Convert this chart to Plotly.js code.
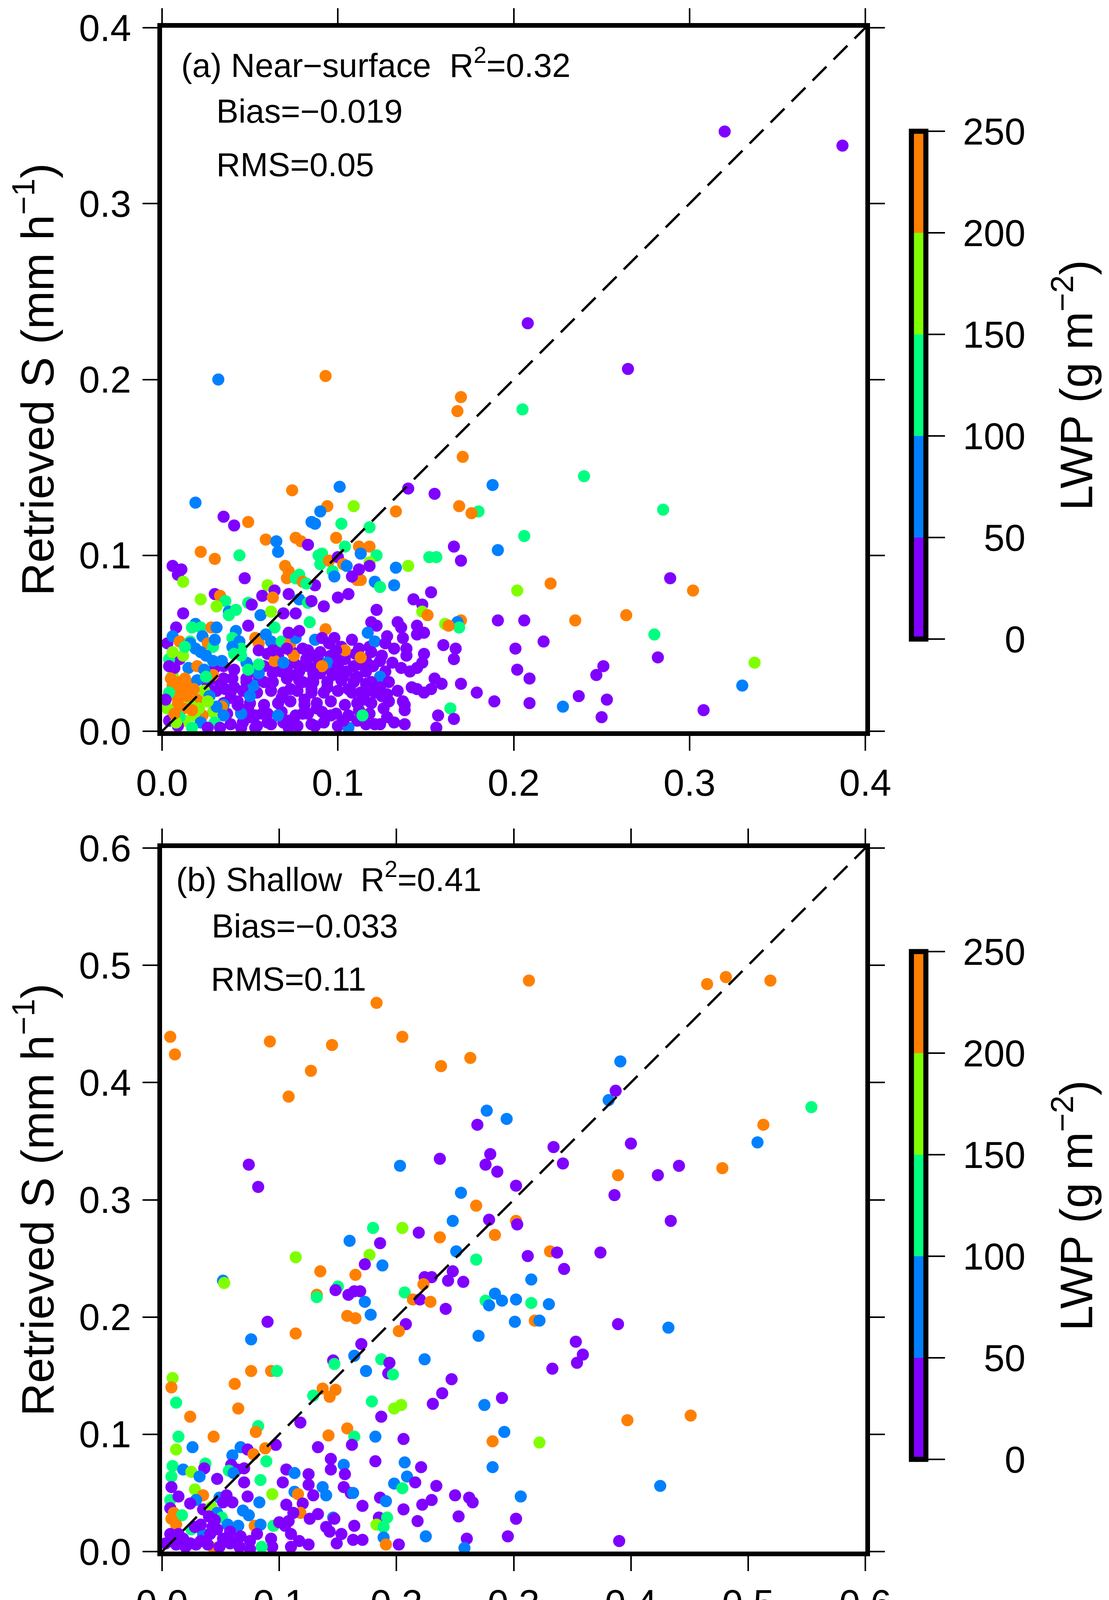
<!DOCTYPE html>
<html>
<head>
<meta charset="utf-8">
<script src="https://cdn.plot.ly/plotly-3.0.1.min.js"></script>
<style>
  html, body { margin: 0; padding: 0; background: #fff; }
  #chart { width: 2840px; height: 6431px; }
</style>
</head>
<body>
<div id="chart"></div>
<script>
/* =========================
   Data
   each point: [measured S, retrieved S, LWP]
   LWP only readable as a colour class -> class midpoint
========================= */
const P = 25, B = 75, G = 125, L = 175, O = 225;

const nearSurface = [
  // dense purple block near the origin
  [0.035,0.037,P],[0.041,0.035,P],[0.050,0.036,P],[0.058,0.037,P],[0.064,0.035,P],[0.071,0.036,P],[0.078,0.037,P],[0.086,0.035,P],[0.094,0.036,P],[0.101,0.035,P],[0.109,0.037,P],
  [0.032,0.029,P],[0.040,0.030,P],[0.048,0.028,P],[0.055,0.029,P],[0.063,0.028,P],[0.071,0.030,P],[0.078,0.029,P],[0.086,0.030,P],[0.094,0.028,P],[0.102,0.029,P],[0.110,0.030,P],
  [0.031,0.023,P],[0.039,0.022,P],[0.046,0.023,P],[0.054,0.022,P],[0.062,0.023,P],[0.069,0.022,P],[0.077,0.023,P],[0.085,0.024,P],[0.092,0.022,P],[0.100,0.023,P],[0.108,0.022,P],[0.117,0.023,P],
  [0.035,0.016,P],[0.043,0.017,P],[0.050,0.016,P],[0.058,0.015,P],[0.066,0.016,P],[0.073,0.017,P],[0.081,0.015,P],[0.088,0.016,P],[0.096,0.017,P],[0.104,0.015,P],[0.111,0.016,P],[0.119,0.016,P],[0.129,0.017,P],
  [0.037,0.010,P],[0.045,0.011,P],[0.053,0.009,P],[0.060,0.010,P],[0.068,0.011,P],[0.076,0.009,P],[0.083,0.010,P],[0.091,0.011,P],[0.099,0.010,P],[0.106,0.009,P],
  [0.039,0.004,P],[0.046,0.005,P],[0.054,0.003,P],[0.062,0.004,P],[0.069,0.005,P],[0.077,0.003,P],[0.085,0.004,P],[0.092,0.005,P],[0.100,0.003,P],[0.124,0.004,P],[0.132,0.005,P],
  [0.066,0.043,P],[0.074,0.045,P],[0.082,0.041,P],[0.089,0.040,P],[0.096,0.043,P],[0.104,0.041,P],[0.110,0.044,P],[0.116,0.040,P],
  [0.095,0.050,P],[0.102,0.048,P],[0.112,0.047,P],[0.118,0.048,P],[0.124,0.040,P],[0.127,0.034,P],[0.116,0.034,P],[0.112,0.038,P],
  [0.099,0.041,P],[0.083,0.046,P],[0.066,0.048,P],[0.060,0.044,P],[0.075,0.039,P],[0.090,0.033,P],[0.097,0.032,P],[0.103,0.031,P],
  [0.116,0.027,P],[0.121,0.022,P],[0.128,0.021,P],[0.118,0.010,P],[0.112,0.012,P],[0.128,0.008,P],[0.111,0.006,P],[0.116,0.004,P],
  [0.137,0.053,P],[0.026,0.026,P],[0.030,0.036,P],[0.003,0.050,P],
  // sparse points
  [0.320,0.341,P],[0.387,0.333,P],[0.208,0.232,P],[0.265,0.206,P],[0.032,0.200,B],[0.093,0.202,O],[0.205,0.183,G],[0.240,0.145,G],
  [0.285,0.126,G],[0.206,0.111,G],[0.289,0.087,P],[0.302,0.080,O],[0.221,0.084,O],[0.202,0.080,L],[0.264,0.066,O],[0.235,0.063,O],
  [0.206,0.063,P],[0.217,0.051,P],[0.280,0.055,G],[0.201,0.047,P],[0.282,0.042,P],[0.202,0.035,P],[0.209,0.030,P],[0.337,0.039,L],
  [0.251,0.037,P],[0.247,0.032,P],[0.330,0.026,B],[0.237,0.020,P],[0.253,0.018,P],[0.209,0.016,P],[0.228,0.014,B],[0.250,0.008,P],[0.308,0.012,P],
  // main cloud
  [0.170,0.190,O],[0.168,0.182,O],[0.171,0.156,O],[0.101,0.139,B],[0.074,0.137,O],[0.140,0.138,P],[0.155,0.135,P],[0.188,0.140,B],
  [0.019,0.130,B],[0.094,0.128,O],[0.090,0.125,B],[0.109,0.128,L],[0.133,0.125,O],[0.169,0.128,O],[0.180,0.125,G],[0.176,0.124,O],
  [0.035,0.122,P],[0.041,0.117,P],[0.049,0.119,O],[0.085,0.119,B],[0.087,0.118,B],[0.102,0.118,G],[0.118,0.116,G],[0.059,0.109,O],
  [0.065,0.108,B],[0.066,0.102,B],[0.076,0.110,O],[0.079,0.108,O],[0.083,0.106,P],[0.099,0.110,O],[0.104,0.105,G],[0.112,0.105,O],
  [0.118,0.105,O],[0.113,0.101,B],[0.122,0.100,G],[0.022,0.102,O],[0.030,0.098,O],[0.044,0.100,G],[0.166,0.105,P],[0.191,0.103,B],
  [0.152,0.099,G],[0.156,0.099,G],[0.170,0.097,P],[0.140,0.094,L],[0.133,0.093,B],[0.006,0.094,P],[0.011,0.092,P],[0.009,0.089,P],
  [0.012,0.085,L],[0.047,0.087,P],[0.089,0.100,G],[0.091,0.101,G],[0.090,0.095,G],[0.095,0.097,O],[0.100,0.099,P],[0.097,0.091,G],
  [0.103,0.095,O],[0.105,0.094,B],[0.118,0.096,L],[0.118,0.094,P],[0.098,0.088,B],[0.070,0.094,O],[0.072,0.091,O],[0.071,0.087,O],
  [0.078,0.089,G],[0.076,0.087,G],[0.080,0.085,O],[0.087,0.083,P],[0.082,0.084,G],[0.110,0.087,P],[0.111,0.086,O],[0.113,0.086,O],
  [0.112,0.092,P],[0.108,0.088,P],[0.121,0.085,B],[0.124,0.082,G],[0.132,0.083,B],[0.060,0.083,L],[0.064,0.080,P],[0.057,0.077,P],
  [0.063,0.076,O],[0.072,0.078,P],[0.078,0.075,B],[0.083,0.073,G],[0.085,0.074,P],[0.092,0.071,P],[0.100,0.076,P],[0.106,0.078,P],
  [0.143,0.075,P],[0.153,0.079,P],[0.148,0.072,P],[0.030,0.078,P],[0.033,0.077,O],[0.022,0.075,L],[0.036,0.074,G],[0.031,0.071,L],
  [0.012,0.067,P],[0.038,0.068,B],[0.042,0.069,G],[0.038,0.066,G],[0.049,0.073,G],[0.051,0.072,P],[0.056,0.066,B],[0.062,0.068,L],
  [0.069,0.067,P],[0.076,0.067,P],[0.122,0.069,P],[0.148,0.068,L],[0.151,0.066,O],[0.191,0.063,P],[0.170,0.063,O],[0.168,0.062,B],
  [0.169,0.059,G],[0.161,0.061,L],[0.163,0.060,O],[0.119,0.062,P],[0.134,0.062,P],[0.136,0.059,P],[0.145,0.060,P],[0.145,0.055,P],
  [0.149,0.056,P],[0.122,0.060,P],[0.084,0.062,G],[0.093,0.058,O],[0.008,0.059,P],[0.019,0.061,B],[0.017,0.059,G],[0.022,0.059,G],
  [0.028,0.059,O],[0.031,0.059,B],[0.049,0.060,P],[0.064,0.059,G],[0.042,0.057,B],[0.006,0.054,B],[0.010,0.051,O],[0.016,0.051,G],
  [0.023,0.054,B],[0.026,0.050,O],[0.029,0.048,G],[0.016,0.050,B],[0.019,0.047,B],[0.022,0.045,B],[0.025,0.043,B],[0.029,0.040,B],
  [0.040,0.053,G],[0.044,0.051,B],[0.045,0.047,G],[0.040,0.048,B],[0.053,0.053,O],[0.055,0.050,O],[0.059,0.055,B],[0.062,0.051,B],
  [0.068,0.051,G],[0.073,0.050,O],[0.076,0.053,B],[0.072,0.056,P],[0.078,0.057,P],[0.087,0.052,B],[0.091,0.053,P],[0.098,0.053,P],
  [0.108,0.052,P],[0.104,0.046,O],[0.090,0.045,P],[0.099,0.046,P],[0.117,0.056,B],[0.121,0.051,B],[0.127,0.050,P],[0.132,0.047,P],
  [0.128,0.054,P],[0.139,0.047,P],[0.149,0.044,P],[0.160,0.049,P],[0.167,0.047,P],[0.166,0.041,P],[0.113,0.042,O],[0.119,0.045,P],
  [0.125,0.043,P],[0.131,0.039,P],[0.136,0.036,P],[0.145,0.036,P],[0.141,0.034,P],[0.124,0.031,B],[0.120,0.037,P],[0.094,0.039,B],
  [0.091,0.037,O],[0.100,0.037,P],[0.105,0.034,P],[0.111,0.031,P],[0.109,0.028,P],[0.106,0.024,P],[0.113,0.022,P],[0.115,0.018,P],
  [0.125,0.020,P],[0.137,0.017,P],[0.138,0.012,P],[0.142,0.025,P],[0.145,0.024,P],[0.149,0.022,P],[0.153,0.024,P],[0.155,0.030,P],
  [0.159,0.027,P],[0.170,0.027,P],[0.179,0.022,P],[0.189,0.017,P],[0.164,0.013,G],[0.157,0.009,P],[0.166,0.007,P],[0.156,0.002,P],
  [0.138,0.004,P],[0.121,0.004,P],[0.106,0.002,B],[0.087,0.003,P],[0.114,0.009,G],[0.103,0.006,P],[0.096,0.009,P],[0.088,0.013,P],
  [0.081,0.018,P],[0.085,0.022,P],[0.094,0.025,P],[0.086,0.028,P],[0.080,0.028,P],[0.073,0.024,P],[0.068,0.019,P],[0.066,0.009,B],
  [0.072,0.006,P],[0.080,0.010,P],[0.060,0.005,P],[0.057,0.010,P],[0.050,0.008,P],[0.049,0.013,P],[0.045,0.010,B],[0.052,0.026,B],
  [0.048,0.030,P],[0.054,0.033,P],[0.063,0.033,P],[0.068,0.034,P],[0.073,0.032,P],[0.058,0.028,P],[0.041,0.025,P],[0.035,0.030,P],
  [0.036,0.024,P],[0.039,0.019,P],[0.043,0.015,P],[0.035,0.015,B],[0.034,0.014,O],[0.029,0.011,L],[0.023,0.009,O],[0.018,0.009,L],
  [0.020,0.018,O],[0.016,0.015,L],[0.012,0.013,O],[0.009,0.016,O],[0.008,0.020,O],[0.006,0.026,O],[0.011,0.024,O],[0.015,0.027,O],
  [0.024,0.023,L],[0.029,0.032,O],[0.006,0.032,L],[0.004,0.022,G],[0.007,0.036,P],[0.015,0.036,B],[0.020,0.037,O],[0.010,0.041,P],
  [0.012,0.043,L],[0.004,0.041,G],[0.004,0.037,P],[0.020,0.029,B],[0.035,0.009,B],[0.030,0.005,G],[0.022,0.005,B],[0.013,0.006,L],
  [0.004,0.006,P],[0.003,0.013,L],[0.002,0.018,P],[0.009,0.003,P],[0.017,0.002,G],[0.026,0.002,P],[0.033,0.002,P],[0.045,0.002,P],
  [0.053,0.002,P],[0.072,0.002,P],[0.050,0.020,B],[0.055,0.033,B],[0.048,0.039,B],[0.045,0.043,G],[0.041,0.044,G],[0.055,0.038,G],
  [0.049,0.035,G],[0.064,0.040,O],[0.069,0.039,B],[0.075,0.043,O],[0.063,0.046,P],[0.055,0.046,P],[0.071,0.047,P],[0.080,0.047,P],
  [0.086,0.043,P],[0.083,0.037,P],[0.078,0.034,P],[0.086,0.033,P],[0.119,0.028,P],[0.124,0.025,P],[0.129,0.028,P],[0.134,0.023,P],
  [0.138,0.015,P],[0.148,0.039,P],[0.139,0.043,P],[0.126,0.013,P],
  // colourful cluster at the origin
  [0.027,0.020,B],[0.031,0.014,B],[0.024,0.035,B],[0.034,0.040,B],[0.030,0.052,B],[0.013,0.048,G],[0.025,0.031,G],[0.010,0.008,G],
  [0.008,0.005,L],[0.021,0.013,L],[0.026,0.017,L],[0.006,0.045,L],
  [0.005,0.030,O],[0.010,0.028,O],[0.014,0.020,O],[0.018,0.024,O],[0.013,0.030,O],[0.017,0.012,O],[0.007,0.010,O]
];

const shallow = [
  [0.007,0.439,O],[0.011,0.424,O],[0.092,0.435,O],[0.145,0.432,O],[0.127,0.410,O],[0.108,0.388,O],[0.183,0.468,O],[0.205,0.439,O],
  [0.238,0.414,O],[0.263,0.421,O],[0.313,0.487,O],[0.465,0.484,O],[0.481,0.490,O],[0.519,0.487,O],[0.391,0.418,B],[0.381,0.385,B],
  [0.387,0.393,P],[0.554,0.379,G],[0.513,0.364,O],[0.508,0.349,B],[0.478,0.327,O],[0.074,0.330,P],[0.082,0.311,P],[0.203,0.329,B],
  [0.237,0.335,P],[0.277,0.376,B],[0.294,0.369,B],[0.269,0.364,P],[0.280,0.339,P],[0.276,0.330,P],[0.286,0.324,P],[0.302,0.312,P],
  [0.334,0.345,P],[0.342,0.331,P],[0.400,0.348,P],[0.389,0.321,O],[0.423,0.321,P],[0.441,0.329,P],[0.386,0.304,P],[0.434,0.282,P],
  [0.255,0.306,B],[0.268,0.295,O],[0.302,0.282,O],[0.303,0.279,P],[0.331,0.256,O],[0.337,0.255,P],[0.374,0.255,P],[0.312,0.252,P],
  [0.343,0.241,P],[0.315,0.232,B],[0.315,0.212,G],[0.302,0.215,B],[0.318,0.197,O],[0.322,0.197,B],[0.330,0.211,B],[0.301,0.196,B],
  [0.353,0.179,P],[0.359,0.168,P],[0.354,0.161,P],[0.333,0.156,P],[0.389,0.194,P],[0.432,0.191,B],[0.397,0.112,O],[0.451,0.116,O],
  [0.322,0.093,L],[0.425,0.056,B],[0.390,0.009,P],[0.306,0.047,B],[0.302,0.028,P],[0.295,0.013,P],
  [0.248,0.282,B],[0.180,0.276,G],[0.205,0.276,L],[0.219,0.272,P],[0.237,0.268,O],[0.279,0.283,P],[0.284,0.270,O],[0.160,0.265,B],
  [0.186,0.263,P],[0.177,0.253,L],[0.114,0.251,L],[0.173,0.245,P],[0.188,0.244,B],[0.268,0.249,G],[0.251,0.256,B],[0.135,0.239,O],
  [0.165,0.236,O],[0.052,0.231,B],[0.053,0.229,L],[0.224,0.234,P],[0.230,0.234,P],[0.223,0.228,O],[0.248,0.239,P],[0.244,0.231,P],
  [0.257,0.230,P],[0.150,0.226,G],[0.148,0.223,P],[0.159,0.219,P],[0.164,0.222,P],[0.169,0.222,P],[0.132,0.219,O],[0.132,0.217,G],
  [0.173,0.213,B],[0.207,0.221,G],[0.214,0.215,O],[0.220,0.215,P],[0.229,0.213,O],[0.242,0.207,P],[0.284,0.220,B],[0.290,0.214,B],
  [0.276,0.214,G],[0.279,0.210,B],[0.090,0.196,P],[0.178,0.202,B],[0.158,0.201,O],[0.165,0.199,O],[0.208,0.194,P],[0.202,0.188,O],
  [0.114,0.186,O],[0.076,0.181,B],[0.270,0.184,B],[0.170,0.177,P],[0.164,0.167,B],[0.146,0.163,P],[0.147,0.160,G],[0.224,0.164,B],
  [0.187,0.164,G],[0.194,0.161,P],[0.174,0.154,B],[0.193,0.152,P],[0.197,0.151,G],[0.076,0.154,O],[0.093,0.154,O],[0.098,0.154,G],
  [0.009,0.148,L],[0.008,0.140,O],[0.062,0.143,O],[0.247,0.147,P],[0.137,0.139,O],[0.148,0.138,O],[0.143,0.132,O],[0.129,0.133,G],
  [0.239,0.135,P],[0.290,0.131,P],[0.231,0.126,P],[0.275,0.125,B],[0.012,0.127,G],[0.065,0.122,O],[0.179,0.128,G],[0.198,0.122,L],
  [0.204,0.125,L],[0.187,0.115,P],[0.024,0.115,O],[0.118,0.110,P],[0.082,0.107,G],[0.080,0.102,O],[0.014,0.098,G],[0.044,0.098,O],
  [0.142,0.099,O],[0.158,0.105,O],[0.164,0.098,G],[0.162,0.091,P],[0.182,0.098,B],[0.206,0.096,P],[0.282,0.094,O],[0.292,0.102,B],
  [0.026,0.089,B],[0.012,0.087,L],[0.133,0.089,P],[0.097,0.091,P],[0.088,0.088,O],[0.067,0.089,B],[0.073,0.087,P],[0.060,0.082,B],
  [0.078,0.083,O],[0.089,0.077,G],[0.144,0.079,P],[0.155,0.074,B],[0.182,0.077,P],[0.207,0.076,B],[0.221,0.072,P],[0.282,0.072,B],
  [0.009,0.073,G],[0.037,0.075,G],[0.036,0.071,P],[0.018,0.070,B],[0.025,0.068,L],[0.059,0.074,P],[0.064,0.070,P],[0.057,0.069,G],
  [0.061,0.067,B],[0.070,0.071,P],[0.106,0.070,P],[0.113,0.067,B],[0.125,0.066,P],[0.144,0.070,P],[0.156,0.066,P],[0.008,0.064,G],
  [0.032,0.064,B],[0.047,0.062,P],[0.070,0.059,P],[0.084,0.061,G],[0.103,0.059,P],[0.125,0.057,P],[0.137,0.055,B],[0.155,0.055,P],
  [0.198,0.058,B],[0.205,0.054,G],[0.209,0.064,B],[0.216,0.059,P],[0.234,0.056,P],[0.008,0.055,P],[0.028,0.053,L],[0.035,0.048,O],
  [0.007,0.044,G],[0.014,0.047,P],[0.029,0.044,B],[0.024,0.041,P],[0.049,0.046,B],[0.055,0.048,P],[0.060,0.042,P],[0.073,0.047,P],
  [0.094,0.049,L],[0.083,0.042,B],[0.113,0.051,B],[0.116,0.049,O],[0.129,0.048,P],[0.140,0.048,B],[0.106,0.040,P],[0.120,0.041,P],
  [0.161,0.050,P],[0.163,0.050,B],[0.171,0.039,P],[0.186,0.046,P],[0.191,0.043,B],[0.222,0.040,P],[0.230,0.044,P],[0.250,0.048,P],
  [0.262,0.046,P],[0.265,0.042,P],[0.206,0.036,P],[0.007,0.037,P],[0.010,0.033,O],[0.017,0.031,G],[0.008,0.028,O],[0.012,0.023,O],
  [0.035,0.036,P],[0.042,0.038,L],[0.047,0.033,B],[0.051,0.029,G],[0.069,0.035,B],[0.074,0.031,B],[0.056,0.023,B],[0.065,0.022,B],
  [0.043,0.021,P],[0.079,0.022,O],[0.084,0.023,B],[0.095,0.022,G],[0.100,0.025,P],[0.108,0.026,P],[0.118,0.033,O],[0.112,0.033,P],
  [0.126,0.028,P],[0.133,0.032,P],[0.146,0.029,B],[0.147,0.028,P],[0.140,0.021,P],[0.143,0.017,P],[0.153,0.015,P],[0.164,0.022,P],
  [0.163,0.010,P],[0.171,0.010,P],[0.149,0.007,P],[0.185,0.029,P],[0.192,0.029,G],[0.183,0.023,L],[0.189,0.021,G],[0.218,0.026,P],
  [0.253,0.030,P],[0.189,0.012,B],[0.225,0.013,B],[0.260,0.011,P],[0.258,0.003,B],[0.191,0.006,O],[0.202,0.006,P],[0.067,0.013,P],
  [0.075,0.009,P],[0.058,0.007,P],[0.081,0.015,P],[0.093,0.011,P],[0.094,0.004,P],[0.105,0.022,P],[0.110,0.015,P],[0.117,0.009,P],
  [0.125,0.006,P],[0.110,0.004,P],[0.085,0.004,G],[0.075,0.002,P],[0.044,0.003,O],[0.025,0.019,G],[0.035,0.015,B],[0.010,0.013,G],
  [0.003,0.007,P],[0.007,0.009,P],[0.012,0.006,P],[0.018,0.011,P],[0.024,0.007,P],[0.029,0.006,P],[0.033,0.009,P],[0.039,0.006,P],
  [0.045,0.027,P],[0.041,0.015,P],[0.047,0.019,P],[0.033,0.023,P],[0.028,0.021,P],[0.014,0.015,P],[0.007,0.015,P],[0.020,0.004,P],
  [0.049,0.004,P],[0.052,0.011,P],[0.058,0.017,P],[0.040,0.030,P],[0.052,0.042,P],[0.062,0.008,P],[0.066,0.004,P]
];

const deep = [
  [0.805,1.043,O],[0.854,1.043,O],[0.602,0.963,O],[0.632,0.931,O],[0.734,0.946,O],[0.818,0.950,O],[0.872,0.943,L],[0.912,0.933,O],
  [0.939,0.921,O],[0.905,0.895,O],[0.841,0.882,O],[1.020,0.890,L],[0.956,0.848,O],[0.611,0.801,O],[0.864,0.756,O],[0.846,0.724,B],
  [1.079,0.707,L],[0.768,0.686,G],[0.314,0.667,G],[0.421,0.674,O],[1.000,0.674,G],[0.892,0.646,B],[0.940,0.622,G],[0.600,0.624,B],
  [0.700,0.629,O],[0.612,0.606,G],[0.647,0.617,G],[0.880,0.610,L],[0.635,0.585,O],[0.946,0.591,L],[0.961,0.591,B],[1.056,0.574,G],
  [0.682,0.563,G],[0.699,0.552,G],[0.968,0.552,L],[1.117,0.535,O],[1.160,0.533,L],[0.755,0.520,B],[0.745,0.513,G],[0.716,0.493,O],
  [0.727,0.506,O],[0.853,0.502,L],[0.905,0.484,G],[0.647,0.511,G],[0.635,0.510,G],[0.618,0.496,G],[0.864,0.427,G],[0.613,0.405,L],
  [1.063,0.396,O],[0.013,0.029,O],[0.023,0.034,O],[0.040,0.029,O],[0.085,0.041,O],[0.260,0.045,P],
  [0.233,0.624,B],[0.249,0.600,G],[0.499,0.548,O],[0.550,0.531,G],[0.559,0.503,O],[0.585,0.490,G],[0.392,0.503,G],[0.402,0.490,G],
  [0.430,0.508,G],[0.474,0.501,G],[0.551,0.473,O],[0.574,0.480,O],[0.535,0.446,O],[0.566,0.450,O],[0.348,0.470,G],[0.455,0.470,O],
  [0.451,0.472,G],[0.483,0.466,G],[0.459,0.454,G],[0.403,0.445,G],[0.462,0.443,G],[0.473,0.441,G],[0.478,0.449,G],[0.498,0.443,G],
  [0.411,0.429,G],[0.436,0.428,O],[0.443,0.426,O],[0.303,0.422,P],[0.290,0.431,G],[0.316,0.428,G],[0.128,0.426,B],[0.142,0.409,B],
  [0.166,0.411,B],[0.385,0.413,B],[0.271,0.397,G],[0.233,0.387,L],[0.271,0.377,B],[0.089,0.380,B],[0.328,0.379,B],[0.361,0.384,B],
  [0.399,0.382,O],[0.536,0.391,G],[0.474,0.391,G],[0.388,0.366,P],[0.416,0.355,P],[0.451,0.363,P],[0.460,0.355,B],[0.495,0.348,B],
  [0.505,0.356,G],[0.214,0.347,B],[0.245,0.351,B],[0.205,0.332,B],[0.285,0.340,B],[0.285,0.317,L],[0.290,0.326,P],[0.271,0.321,B],
  [0.024,0.323,B],[0.346,0.360,B],[0.340,0.353,P],[0.359,0.359,P],[0.326,0.334,P],[0.330,0.326,P],[0.344,0.328,O],[0.350,0.341,L],
  [0.371,0.334,B],[0.380,0.330,P],[0.388,0.345,P],[0.367,0.319,O],[0.374,0.316,G],[0.418,0.322,G],[0.430,0.319,P],[0.413,0.306,B],
  [0.436,0.303,O],[0.444,0.311,B],[0.237,0.309,G],[0.245,0.318,G],[0.249,0.303,B],[0.057,0.301,B],[0.016,0.283,B],[0.089,0.287,B],
  [0.115,0.278,P],[0.221,0.280,B],[0.233,0.278,G],[0.245,0.275,P],[0.263,0.271,P],[0.285,0.286,P],[0.281,0.271,P],[0.304,0.275,B],
  [0.306,0.263,B],[0.318,0.271,P],[0.321,0.290,G],[0.341,0.278,G],[0.355,0.286,P],[0.358,0.271,P],[0.363,0.273,B],[0.382,0.280,G],
  [0.386,0.271,P],[0.395,0.260,B],[0.380,0.249,B],[0.410,0.283,P],[0.444,0.275,G],[0.176,0.261,P],[0.202,0.252,G],[0.214,0.258,G],
  [0.242,0.252,B],[0.248,0.248,P],[0.258,0.254,P],[0.265,0.261,P],[0.273,0.257,P],[0.269,0.244,P],[0.258,0.234,P],[0.244,0.234,P],
  [0.262,0.224,P],[0.273,0.222,P],[0.286,0.229,P],[0.300,0.229,P],[0.295,0.244,B],[0.219,0.238,O],[0.195,0.231,O],[0.181,0.231,L],
  [0.199,0.215,P],[0.180,0.211,B],[0.222,0.223,B],[0.237,0.223,G],[0.257,0.211,B],[0.340,0.230,P],[0.344,0.216,G],[0.397,0.234,P],
  [0.389,0.210,P],[0.306,0.201,P],[0.411,0.191,L],[0.025,0.245,B],[0.024,0.214,B],[0.070,0.217,B],[0.101,0.214,B],[0.076,0.189,P],
  [0.166,0.197,G],[0.174,0.185,P],[0.138,0.184,B],[0.185,0.176,B],[0.123,0.168,B],[0.137,0.168,G],[0.203,0.180,G],[0.226,0.197,G],
  [0.255,0.190,O],[0.222,0.167,G],[0.244,0.161,B],[0.274,0.158,G],[0.288,0.166,P],[0.290,0.151,G],[0.207,0.152,G],[0.220,0.137,L],
  [0.432,0.134,G],[0.392,0.174,O],[0.389,0.164,O],[0.012,0.162,B],[0.017,0.158,B],[0.013,0.120,B],[0.032,0.108,B],[0.060,0.117,B],
  [0.054,0.110,P],[0.020,0.090,B],[0.085,0.101,B],[0.153,0.120,O],[0.275,0.131,P],[0.232,0.118,P],[0.262,0.117,P],[0.237,0.102,B],
  [0.338,0.103,P],[0.325,0.082,P],[0.086,0.069,O]
];

const panelData = [nearSurface, shallow, deep];
const panelLabels = ["(a) Near\u2212surface\u00a0 R<sup>2</sup>=0.32", "(b) Shallow\u00a0 R<sup>2</sup>=0.41", "(c) Deep\u00a0 R<sup>2</sup>=0.62"];
const panelBias = ["Bias=\u22120.019", "Bias=\u22120.033", "Bias=\u22120.03"];
const panelRms = ["RMS=0.05", "RMS=0.11", "RMS=0.16"];
const axisMax = [0.4, 0.6, 1.2];
const axisTicks = [
  [0, 0.1, 0.2, 0.3, 0.4],
  [0, 0.1, 0.2, 0.3, 0.4, 0.5, 0.6],
  [0, 0.2, 0.4, 0.6, 0.8, 1.0, 1.2]
];
const lwpTicks = [0, 50, 100, 150, 200, 250];
// figure spaces right-align the labels the way the original does
const lwpTickText = ["\u2008\u2007\u20070", "\u2008\u200750", "\u2008100", "\u2008150", "\u2008200", "\u2008250"];
const lwpColors = ["#8000ff", "#0080ff", "#00ff80", "#80ff00", "#ff8000"];

/* =========================
   Geometry (pixels of the 2840 x 6431 page)
========================= */
const W = 2840, H = 6431;
const FONT = "Liberation Sans, Arial, Helvetica, sans-serif";
const BOX_L = 415, BOX_R = 2216, BOX = 1801;
const BOX_TOP = [71, 2171, 4271];
const LABEL_POS = [
  [[462, 161], [552, 285], [552, 422]],
  [[449, 2245], [540, 2370], [538, 2506]],
  [[431, 4332], [507, 4456], [507, 4591]]
];

function stepScale(colors) {
  const cs = [];
  colors.forEach((c, i) => {
    cs.push([i / colors.length, c]);
    cs.push([(i + 1) / colors.length, c]);
  });
  return cs;
}

function axisStyle(p, extra) {
  return Object.assign({
    range: [0, axisMax[p]],
    tickmode: "array",
    tickvals: axisTicks[p],
    tickformat: ".1f",
    showline: true, linewidth: 12, linecolor: "#000", mirror: "allticks",
    ticks: "outside", ticklen: 38, tickwidth: 4, tickcolor: "#000",
    showgrid: false, zeroline: false, fixedrange: true,
    tickfont: { family: FONT, size: 96, color: "#000" }
  }, extra);
}

const traces = [];
const layout = {
  width: W, height: H,
  margin: { l: 0, r: 0, t: 0, b: 0 },
  paper_bgcolor: "#fff",
  plot_bgcolor: "#fff",
  font: { family: FONT, color: "#000" },
  showlegend: false,
  annotations: []
};

for (let p = 0; p < 3; p++) {
  const sfx = p === 0 ? "" : String(p + 1);
  const pts = panelData[p];
  const top = BOX_TOP[p];
  const yDom = [1 - (top + BOX) / H, 1 - top / H];
  const cbCenter = top + 915;

  traces.push({
    type: "scatter", mode: "markers",
    xaxis: "x" + sfx, yaxis: "y" + sfx,
    x: pts.map(d => d[0]),
    y: pts.map(d => d[1]),
    marker: {
      size: 31,
      color: pts.map(d => d[2]),
      cmin: 0, cmax: 250,
      colorscale: stepScale(lwpColors),
      line: { width: 0 },
      colorbar: {
        x: 2334 / W, xanchor: "left", xpad: 0,
        y: 1 - cbCenter / H, yanchor: "middle", ypad: 0,
        len: 1300, lenmode: "pixels",
        thickness: 37, thicknessmode: "pixels",
        outlinewidth: 13, outlinecolor: "#000",
        tickmode: "array", tickvals: lwpTicks, ticktext: lwpTickText,
        ticks: "outside", ticklen: 43, tickwidth: 4, tickcolor: "#000",
        tickfont: { family: FONT, size: 96, color: "#000" }
      }
    },
    hoverinfo: "skip"
  });

  // 1:1 line
  traces.push({
    type: "scatter", mode: "lines",
    xaxis: "x" + sfx, yaxis: "y" + sfx,
    x: [0, axisMax[p]], y: [0, axisMax[p]],
    line: { color: "#000", width: 6, dash: "50px,26px" },
    hoverinfo: "skip"
  });

  const xExtra = {
    domain: [BOX_L / W, BOX_R / W],
    anchor: "y" + sfx,
    ticklabelstandoff: 0
  };
  if (p === 2) {
    xExtra.title = { text: "Measured S (mm h<sup>\u22121</sup>)", font: { family: FONT, size: 117, color: "#000" }, standoff: 47 };
  }
  layout["xaxis" + sfx] = axisStyle(p, xExtra);
  layout["yaxis" + sfx] = axisStyle(p, {
    domain: yDom,
    anchor: "x" + sfx,
    ticklabelstandoff: 10,
    title: { text: "Retrieved S (mm h<sup>\u22121</sup>)", font: { family: FONT, size: 117, color: "#000" }, standoff: 30 }
  });

  const texts = [panelLabels[p], panelBias[p], panelRms[p]];
  texts.forEach((t, i) => {
    const pos = LABEL_POS[p][i];
    layout.annotations.push({
      xref: "paper", yref: "paper",
      x: pos[0] / W, y: 1 - pos[1] / H,
      xanchor: "left", yanchor: "middle",
      text: t, showarrow: false,
      font: { family: FONT, size: 85, color: "#000" }
    });
  });

  // colour bar title
  layout.annotations.push({
    xref: "paper", yref: "paper",
    x: 2748 / W, y: 1 - cbCenter / H,
    xanchor: "center", yanchor: "middle",
    text: "LWP (g m<sup>\u22122</sup>)", textangle: -90, showarrow: false,
    font: { family: FONT, size: 117, color: "#000" }
  });
}

Plotly.newPlot("chart", traces, layout, { displayModeBar: false, staticPlot: true });
</script>
</body>
</html>
